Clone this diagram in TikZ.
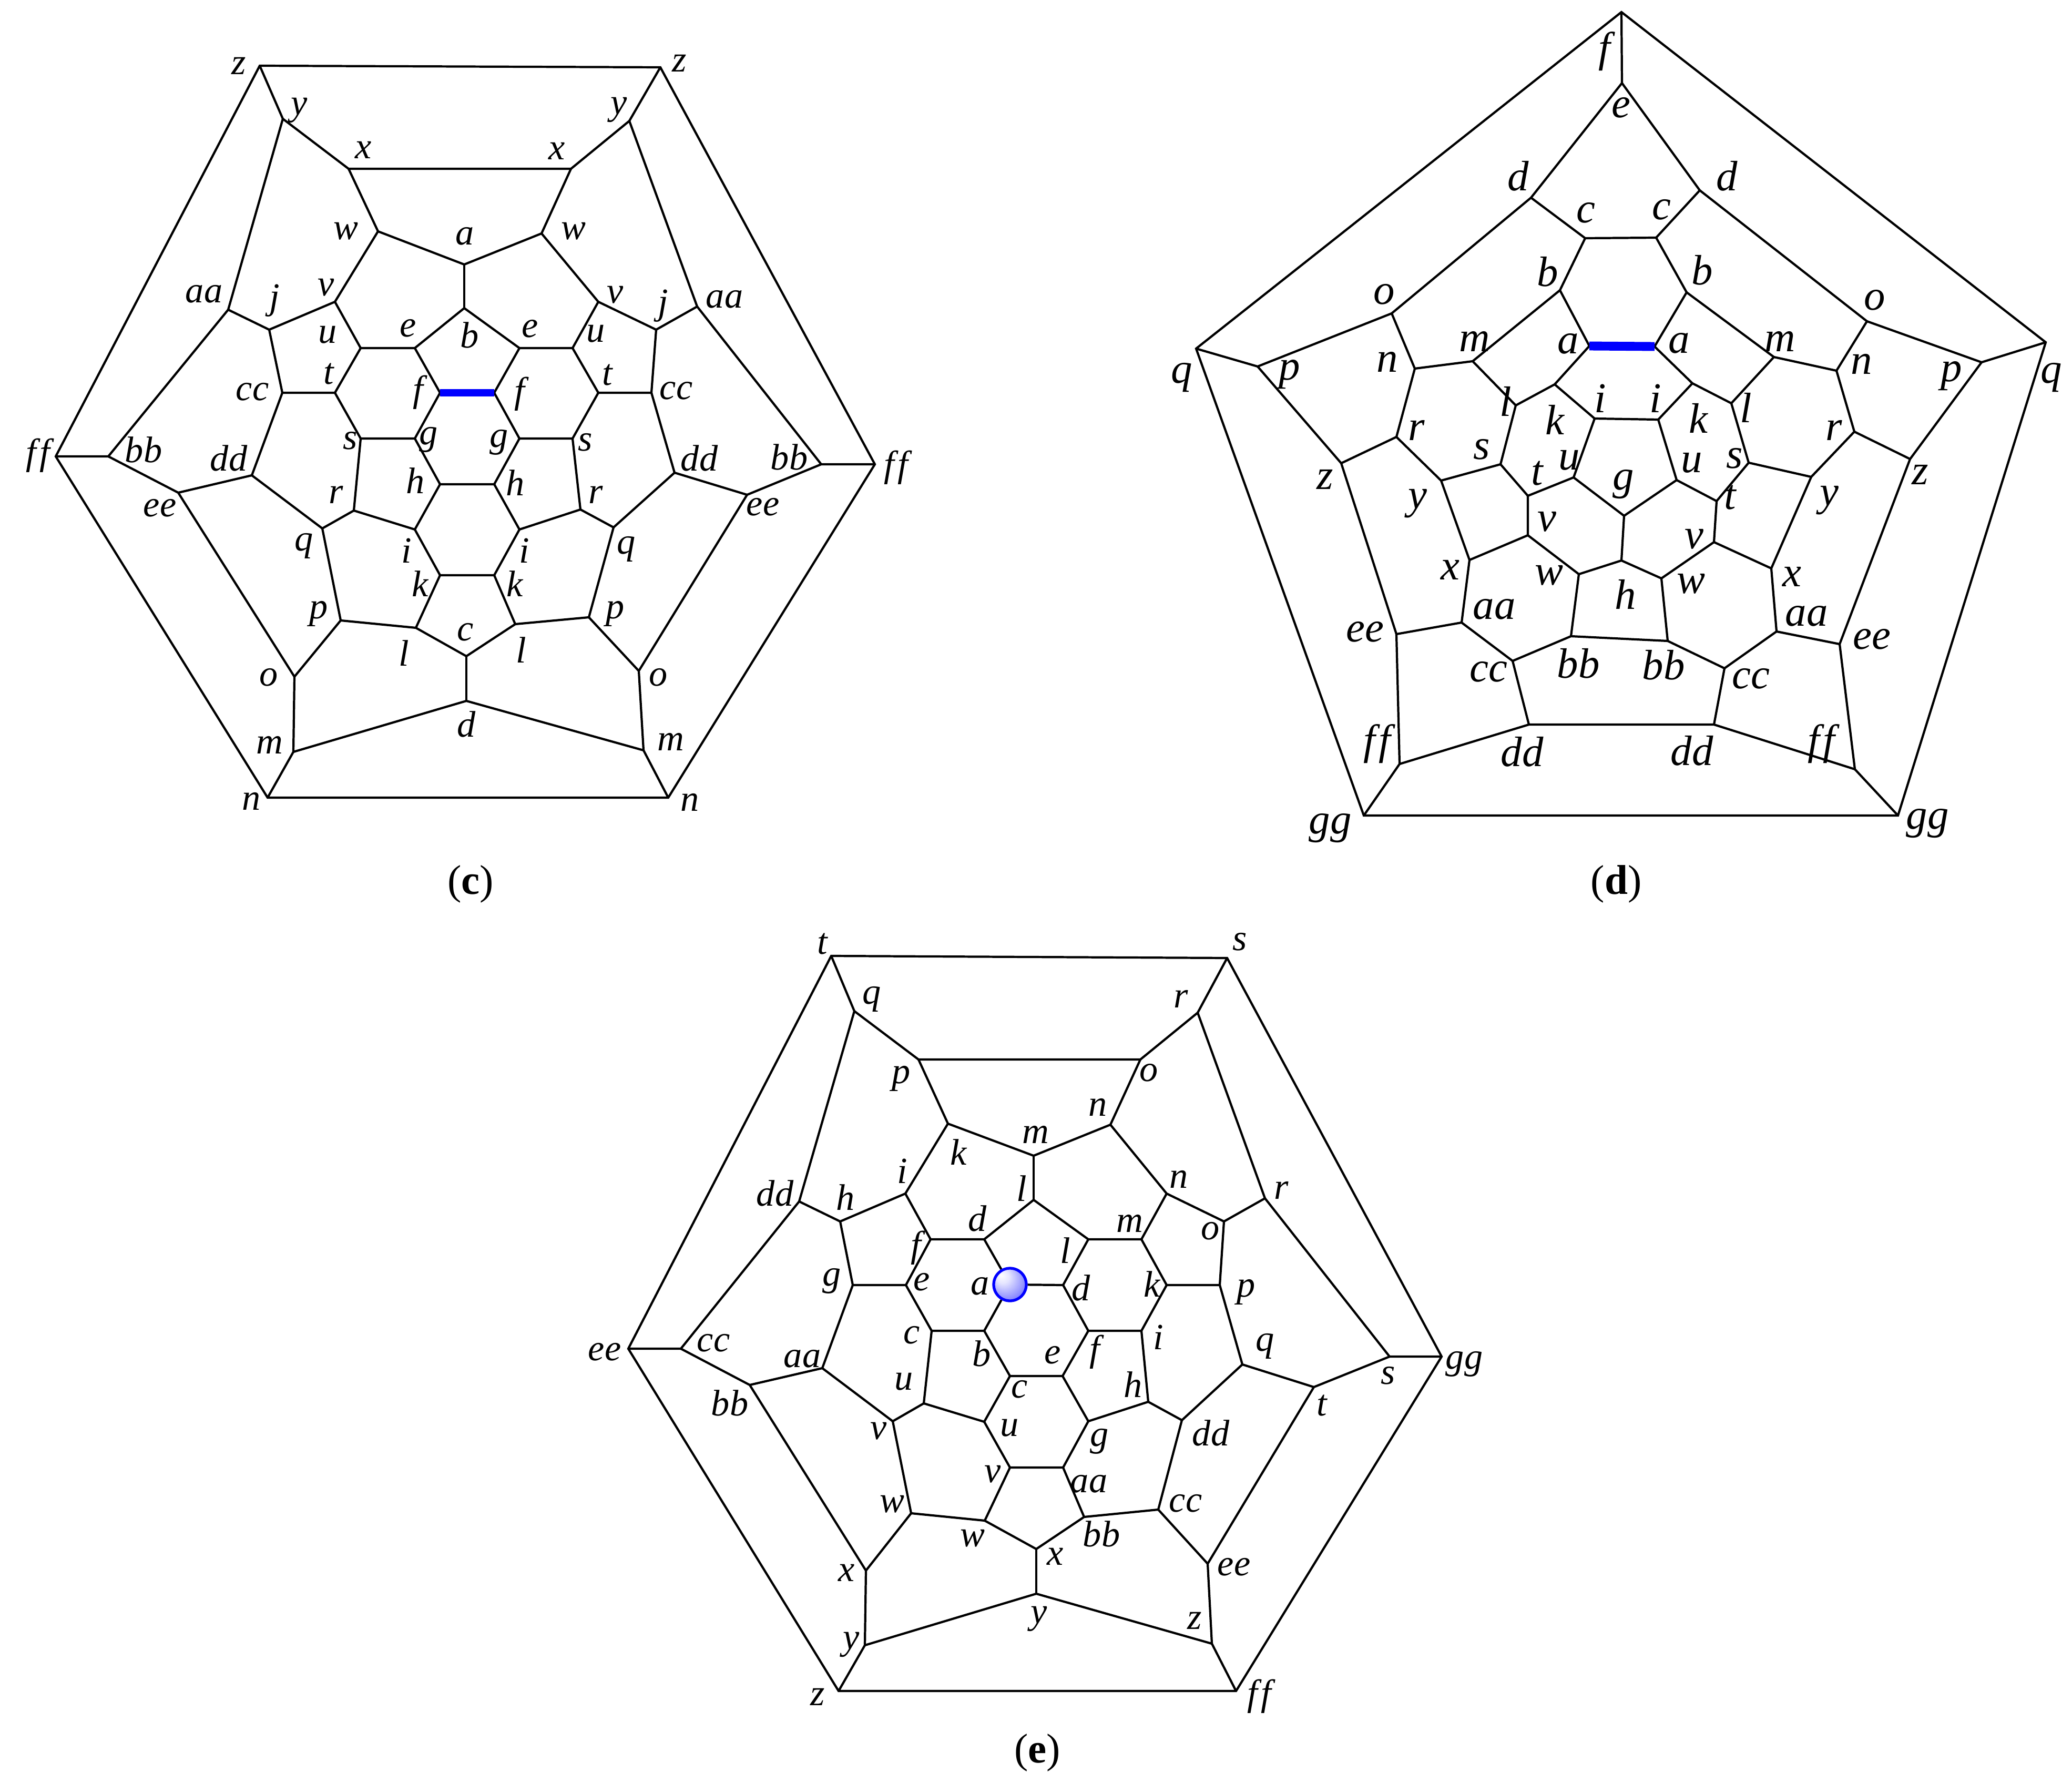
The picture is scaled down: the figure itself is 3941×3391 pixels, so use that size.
\documentclass[tikz,border=0pt]{standalone}
\usepackage{fontspec}
\usepackage{xcolor}
\usepackage{tikz}

\newfontfamily\labfont[Ligatures=NoCommon]{Liberation Serif}
\newcommand{\labff}{f\kern1.8pt f}
\pgfdeclareradialshading{atomshade}{\pgfpoint{-14bp}{15bp}}{color(0bp)=(white); color(10bp)=(blue!10); color(25bp)=(blue!38); color(40bp)=(blue!68); color(50bp)=(blue!90)}

\tikzset{
    link/.style={line width=1.2pt, black},
    bond/.style={line width=4pt, blue},
    lab/.style={inner sep=0pt, font=\labfont\itshape\fontsize{20}{22}\selectfont},
    labd/.style={inner sep=0pt, font=\labfont\itshape\fontsize{23}{26}\selectfont},
    panel/.style={inner sep=0pt, font=\labfont\fontsize{22.5}{26}\selectfont},
    atom/.style={circle, draw=blue, line width=1.5pt, inner sep=0pt, minimum size=62*0.01cm, shading=atomshade}
}

\begin{document}
\begin{tikzpicture}[x=0.01cm, y=-0.01cm]
        \useasboundingbox (0,0) rectangle (3941,3391);

        % panel c
        \coordinate (czL) at (494,125); \node[lab] (lczL) at (454,125) {z};
        \coordinate (czR) at (1256,128); \node[lab] (lczR) at (1292,120) {z};
        \coordinate (cyL) at (538,226); \node[lab] (lcyL) at (569,210) {y};
        \coordinate (cyR) at (1197,230); \node[lab] (lcyR) at (1177,209) {y};
        \coordinate (cxL) at (663,321); \node[lab] (lcxL) at (691,285) {x};
        \coordinate (cxR) at (1086,321); \node[lab] (lcxR) at (1059,287) {x};
        \coordinate (cwL) at (719,440); \node[lab] (lcwL) at (658,440) {w};
        \coordinate (cwR) at (1030,444); \node[lab] (lcwR) at (1091,440) {w};
        \coordinate (ca) at (883,503); \node[lab] (lca) at (884,449) {a};
        \coordinate (cb) at (883,586); \node[lab] (lcb) at (893,637) {b};
        \coordinate (cvL) at (637,574); \node[lab] (lcvL) at (620,547) {v};
        \coordinate (cvR) at (1138,574); \node[lab] (lcvR) at (1170,561) {v};
        \coordinate (cjL) at (512,627); \node[lab] (lcjL) at (522,572) {j};
        \coordinate (cjR) at (1248,627); \node[lab] (lcjR) at (1261,582) {j};
        \coordinate (caaL) at (434,589); \node[lab] (lcaaL) at (388,559) {aa};
        \coordinate (caaR) at (1326,583); \node[lab] (lcaaR) at (1378,569) {aa};
        \coordinate (ceL) at (789,662); \node[lab] (lceL) at (776,624) {e};
        \coordinate (ceR) at (988,662); \node[lab] (lceR) at (1008,625) {e};
        \coordinate (cuL) at (686,662); \node[lab] (lcuL) at (623,637) {u};
        \coordinate (cuR) at (1089,662); \node[lab] (lcuR) at (1133,635) {u};
        \coordinate (cfL) at (837,747); \node[lab] (lcfL) at (795,746) {f};
        \coordinate (cfR) at (940,747); \node[lab] (lcfR) at (988,749) {f};
        \coordinate (ctL) at (637,747); \node[lab] (lctL) at (625,711) {t};
        \coordinate (ctR) at (1138,747); \node[lab] (lctR) at (1155,713) {t};
        \coordinate (cccL) at (537,747); \node[lab] (lcccL) at (480,745) {cc};
        \coordinate (cccR) at (1239,747); \node[lab] (lcccR) at (1286,743) {cc};
        \coordinate (cgL) at (789,834); \node[lab] (lcgL) at (815,836) {g};
        \coordinate (cgR) at (988,834); \node[lab] (lcgR) at (949,841) {g};
        \coordinate (csL) at (686,834); \node[lab] (lcsL) at (666,838) {s};
        \coordinate (csR) at (1089,834); \node[lab] (lcsR) at (1113,841) {s};
        \coordinate (cffL) at (106,868); \node[lab] (lcffL) at (72,866) {\labff};
        \coordinate (cffR) at (1664,883); \node[lab] (lcffR) at (1704,889) {\labff};
        \coordinate (cbbL) at (206,868); \node[lab] (lcbbL) at (273,855) {bb};
        \coordinate (cbbR) at (1562,883); \node[lab] (lcbbR) at (1501,869) {bb};
        \coordinate (cddL) at (479,904); \node[lab] (lcddL) at (435,871) {dd};
        \coordinate (cddR) at (1283,899); \node[lab] (lcddR) at (1330,871) {dd};
        \coordinate (ceeL) at (339,937); \node[lab] (lceeL) at (304,966) {ee};
        \coordinate (ceeR) at (1421,941); \node[lab] (lceeR) at (1451,964) {ee};
        \coordinate (chL) at (837,921); \node[lab] (lchL) at (790,914) {h};
        \coordinate (chR) at (940,921); \node[lab] (lchR) at (980,918) {h};
        \coordinate (crL) at (673,971); \node[lab] (lcrL) at (639,941) {r};
        \coordinate (crR) at (1104,969); \node[lab] (lcrR) at (1133,941) {r};
        \coordinate (cqL) at (613,1005); \node[lab] (lcqL) at (578,1038) {q};
        \coordinate (cqR) at (1167,1003); \node[lab] (lcqR) at (1191,1044) {q};
        \coordinate (ciL) at (789,1007); \node[lab] (lciL) at (773,1047) {i};
        \coordinate (ciR) at (988,1007); \node[lab] (lciR) at (997,1047) {i};
        \coordinate (ckL) at (837,1094); \node[lab] (lckL) at (799,1110) {k};
        \coordinate (ckR) at (940,1094); \node[lab] (lckR) at (979,1110) {k};
        \coordinate (cpL) at (648,1180); \node[lab] (lcpL) at (606,1167) {p};
        \coordinate (cpR) at (1120,1174); \node[lab] (lcpR) at (1170,1167) {p};
        \coordinate (clL) at (791,1194); \node[lab] (lclL) at (768,1242) {l};
        \coordinate (clR) at (980,1187); \node[lab] (lclR) at (991,1236) {l};
        \coordinate (cc) at (887,1248); \node[lab] (lcc) at (885,1202) {c};
        \coordinate (coL) at (560,1287); \node[lab] (lcoL) at (511,1288) {o};
        \coordinate (coR) at (1215,1276); \node[lab] (lcoR) at (1252,1288) {o};
        \coordinate (cd) at (887,1333); \node[lab] (lcd) at (887,1377) {d};
        \coordinate (cmL) at (558,1430); \node[lab] (lcmL) at (513,1417) {m};
        \coordinate (cmR) at (1224,1427); \node[lab] (lcmR) at (1276,1411) {m};
        \coordinate (cnL) at (509,1517); \node[lab] (lcnL) at (478,1524) {n};
        \coordinate (cnR) at (1271,1517); \node[lab] (lcnR) at (1312,1526) {n};
        \node[panel] (capc) at (895,1681) {(\textbf{c})};

        \draw[link] (czL) -- (czR) -- (cffR) -- (cnR) -- (cnL) -- (cffL) -- cycle;
        \draw[link] (czL) -- (cyL) -- (cxL) -- (cxR) -- (cyR) -- (czR);
        \draw[link] (cffL) -- (cbbL) -- (caaL) -- (cyL);
        \draw[link] (cffR) -- (cbbR) -- (caaR) -- (cyR);
        \draw[link] (cbbL) -- (ceeL) -- (coL) -- (cmL) -- (cnL);
        \draw[link] (cbbR) -- (ceeR) -- (coR) -- (cmR) -- (cnR);
        \draw[link] (cmL) -- (cd) -- (cmR);
        \draw[link] (cxL) -- (cwL) -- (ca) -- (cwR) -- (cxR);
        \draw[link] (ca) -- (cb);
        \draw[link] (cwL) -- (cvL) -- (cjL) -- (caaL);
        \draw[link] (cwR) -- (cvR) -- (cjR) -- (caaR);
        \draw[link] (cvL) -- (cuL) -- (ceL) -- (cb) -- (ceR) -- (cuR) -- (cvR);
        \draw[link] (cuL) -- (ctL) -- (cccL) -- (cjL);
        \draw[link] (cuR) -- (ctR) -- (cccR) -- (cjR);
        \draw[link] (cccL) -- (cddL) -- (ceeL);
        \draw[link] (cccR) -- (cddR) -- (ceeR);
        \draw[link] (ctL) -- (csL) -- (cgL) -- (cfL) -- (ceL);
        \draw[link] (ctR) -- (csR) -- (cgR) -- (cfR) -- (ceR);
        \draw[link] (cgL) -- (chL) -- (chR) -- (cgR);
        \draw[link] (chL) -- (ciL) -- (ckL) -- (ckR) -- (ciR) -- (chR);
        \draw[link] (csL) -- (crL) -- (ciL);
        \draw[link] (csR) -- (crR) -- (ciR);
        \draw[link] (cddL) -- (cqL) -- (crL);
        \draw[link] (cddR) -- (cqR) -- (crR);
        \draw[link] (cqL) -- (cpL) -- (clL) -- (ckL);
        \draw[link] (cqR) -- (cpR) -- (clR) -- (ckR);
        \draw[link] (cpL) -- (coL);
        \draw[link] (cpR) -- (coR);
        \draw[link] (clL) -- (cc) -- (clR);
        \draw[link] (cc) -- (cd);
        \draw[bond] (cfL) -- (cfR);

        % panel d
        \coordinate (df) at (3084,23); \node[labd] (ldf) at (3052,98) {f};
        \coordinate (de) at (3085,158); \node[labd] (lde) at (3083,205) {e};
        \coordinate (dqL) at (2275,663); \node[labd] (ldqL) at (2248,718) {q};
        \coordinate (dqR) at (3891,651); \node[labd] (ldqR) at (3902,718) {q};
        \coordinate (ddL) at (2912,376); \node[labd] (lddL) at (2888,335) {d};
        \coordinate (ddR) at (3233,362); \node[labd] (lddR) at (3285,335) {d};
        \coordinate (dcL) at (3015,453); \node[labd] (ldcL) at (3016,405) {c};
        \coordinate (dcR) at (3150,452); \node[labd] (ldcR) at (3160,399) {c};
        \coordinate (dbL) at (2967,552); \node[labd] (ldbL) at (2944,517) {b};
        \coordinate (dbR) at (3208,556); \node[labd] (ldbR) at (3238,514) {b};
        \coordinate (doL) at (2647,596); \node[labd] (ldoL) at (2633,560) {o};
        \coordinate (doR) at (3551,611); \node[labd] (ldoR) at (3566,571) {o};
        \coordinate (daL) at (3023,658); \node[labd] (ldaL) at (2983,654) {a};
        \coordinate (daR) at (3147,659); \node[labd] (ldaR) at (3194,653) {a};
        \coordinate (dpL) at (2392,697); \node[labd] (ldpL) at (2453,712) {p};
        \coordinate (dpR) at (3769,689); \node[labd] (ldpR) at (3712,715) {p};
        \coordinate (dnL) at (2691,701); \node[labd] (ldnL) at (2639,688) {n};
        \coordinate (dnR) at (3493,705); \node[labd] (ldnR) at (3541,692) {n};
        \coordinate (dmL) at (2801,687); \node[labd] (ldmL) at (2805,649) {m};
        \coordinate (dmR) at (3374,679); \node[labd] (ldmR) at (3386,649) {m};
        \coordinate (dkL) at (2957,731); \node[labd] (ldkL) at (2957,798) {k};
        \coordinate (dkR) at (3219,729); \node[labd] (ldkR) at (3230,795) {k};
        \coordinate (dlL) at (2883,771); \node[labd] (ldlL) at (2864,763) {l};
        \coordinate (dlR) at (3293,767); \node[labd] (ldlR) at (3321,775) {l};
        \coordinate (diL) at (3033,796); \node[labd] (ldiL) at (3044,758) {i};
        \coordinate (diR) at (3154,798); \node[labd] (ldiR) at (3149,758) {i};
        \coordinate (drL) at (2656,831); \node[labd] (ldrL) at (2694,818) {r};
        \coordinate (drR) at (3527,821); \node[labd] (ldrR) at (3488,818) {r};
        \coordinate (dsL) at (2854,883); \node[labd] (ldsL) at (2818,855) {s};
        \coordinate (dsR) at (3326,880); \node[labd] (ldsR) at (3299,872) {s};
        \coordinate (dzL) at (2551,881); \node[labd] (ldzL) at (2520,912) {z};
        \coordinate (dzR) at (3633,873); \node[labd] (ldzR) at (3652,903) {z};
        \coordinate (dyL) at (2741,914); \node[labd] (ldyL) at (2696,958) {y};
        \coordinate (dyR) at (3445,907); \node[labd] (ldyR) at (3479,952) {y};
        \coordinate (duL) at (2993,908); \node[labd] (lduL) at (2985,875) {u};
        \coordinate (duR) at (3189,913); \node[labd] (lduR) at (3218,880) {u};
        \coordinate (dtL) at (2906,943); \node[labd] (ldtL) at (2924,900) {t};
        \coordinate (dtR) at (3265,953); \node[labd] (ldtR) at (3291,946) {t};
        \coordinate (dg) at (3089,981); \node[labd] (ldg) at (3088,921) {g};
        \coordinate (dvL) at (2906,1018); \node[labd] (ldvL) at (2942,992) {v};
        \coordinate (dvR) at (3260,1031); \node[labd] (ldvR) at (3222,1025) {v};
        \coordinate (dxL) at (2795,1065); \node[labd] (ldxL) at (2758,1084) {x};
        \coordinate (dxR) at (3369,1081); \node[labd] (ldxR) at (3408,1097) {x};
        \coordinate (dh) at (3084,1066); \node[labd] (ldh) at (3092,1130) {h};
        \coordinate (dwL) at (3003,1092); \node[labd] (ldwL) at (2946,1094) {w};
        \coordinate (dwR) at (3160,1100); \node[labd] (ldwR) at (3216,1110) {w};
        \coordinate (daaL) at (2780,1184); \node[labd] (ldaaL) at (2842,1159) {aa};
        \coordinate (daaR) at (3379,1201); \node[labd] (ldaaR) at (3436,1172) {aa};
        \coordinate (dbbL) at (2988,1210); \node[labd] (ldbbL) at (3002,1262) {bb};
        \coordinate (dbbR) at (3172,1219); \node[labd] (ldbbR) at (3164,1265) {bb};
        \coordinate (deeL) at (2656,1206); \node[labd] (ldeeL) at (2596,1202) {ee};
        \coordinate (deeR) at (3499,1225); \node[labd] (ldeeR) at (3560,1216) {ee};
        \coordinate (dccL) at (2877,1257); \node[labd] (ldccL) at (2831,1278) {cc};
        \coordinate (dccR) at (3280,1271); \node[labd] (ldccR) at (3330,1291) {cc};
        \coordinate (dddL) at (2908,1378); \node[labd] (ldddL) at (2895,1430) {dd};
        \coordinate (dddR) at (3260,1378); \node[labd] (ldddR) at (3218,1428) {dd};
        \coordinate (dffL) at (2662,1453); \node[labd] (ldffL) at (2619,1415) {\labff};
        \coordinate (dffR) at (3528,1463); \node[labd] (ldffR) at (3464,1415) {\labff};
        \coordinate (dggL) at (2594,1551); \node[labd] (ldggL) at (2530,1575) {gg};
        \coordinate (dggR) at (3610,1551); \node[labd] (ldggR) at (3666,1566) {gg};
        \node[panel] (capd) at (3074,1681) {(\textbf{d})};

        \draw[link] (df) -- (dqL) -- (dggL) -- (dggR) -- (dqR) -- cycle;
        \draw[link] (df) -- (de);
        \draw[link] (dqL) -- (dpL) -- (doL) -- (ddL) -- (de) -- (ddR) -- (doR) -- (dpR) -- (dqR);
        \draw[link] (dggL) -- (dffL) -- (deeL) -- (dzL) -- (dpL);
        \draw[link] (dggR) -- (dffR) -- (deeR) -- (dzR) -- (dpR);
        \draw[link] (dffL) -- (dddL) -- (dddR) -- (dffR);
        \draw[link] (ddL) -- (dcL) -- (dcR) -- (ddR);
        \draw[link] (dcL) -- (dbL) -- (daL);
        \draw[link] (dcR) -- (dbR) -- (daR);
        \draw[link] (dbL) -- (dmL) -- (dnL) -- (doL);
        \draw[link] (dbR) -- (dmR) -- (dnR) -- (doR);
        \draw[link] (dmL) -- (dlL) -- (dkL) -- (daL);
        \draw[link] (dmR) -- (dlR) -- (dkR) -- (daR);
        \draw[link] (dkL) -- (diL) -- (diR) -- (dkR);
        \draw[link] (diL) -- (duL) -- (dg) -- (duR) -- (diR);
        \draw[link] (duL) -- (dtL) -- (dsL) -- (dlL);
        \draw[link] (duR) -- (dtR) -- (dsR) -- (dlR);
        \draw[link] (dsL) -- (dyL) -- (drL) -- (dnL);
        \draw[link] (dsR) -- (dyR) -- (drR) -- (dnR);
        \draw[link] (drL) -- (dzL);
        \draw[link] (drR) -- (dzR);
        \draw[link] (dyL) -- (dxL) -- (dvL) -- (dtL);
        \draw[link] (dyR) -- (dxR) -- (dvR) -- (dtR);
        \draw[link] (dvL) -- (dwL) -- (dh) -- (dwR) -- (dvR);
        \draw[link] (dg) -- (dh);
        \draw[link] (dwL) -- (dbbL) -- (dbbR) -- (dwR);
        \draw[link] (dxL) -- (daaL) -- (dccL) -- (dbbL);
        \draw[link] (dxR) -- (daaR) -- (dccR) -- (dbbR);
        \draw[link] (daaL) -- (deeL);
        \draw[link] (daaR) -- (deeR);
        \draw[link] (dccL) -- (dddL);
        \draw[link] (dccR) -- (dddR);
        \draw[bond, line width=4.8pt] (daL) -- (daR);

        % panel e
        \coordinate (et) at (1581,1818); \node[lab] (let) at (1564,1795) {t};
        \coordinate (es) at (2334,1822); \node[lab] (les) at (2358,1791) {s};
        \coordinate (eq) at (1625,1923); \node[lab] (leq) at (1658,1900) {q};
        \coordinate (er) at (2278,1926); \node[lab] (ler) at (2246,1900) {r};
        \coordinate (ep) at (1747,2015); \node[lab] (lep) at (1714,2051) {p};
        \coordinate (eo) at (2169,2015); \node[lab] (leo) at (2185,2040) {o};
        \coordinate (ek) at (1803,2137); \node[lab] (lek) at (1823,2191) {k};
        \coordinate (en) at (2112,2139); \node[lab] (len) at (2088,2106) {n};
        \coordinate (em) at (1966,2198); \node[lab] (lem) at (1970,2158) {m};
        \coordinate (el) at (1966,2282); \node[lab] (lel) at (1943,2260) {l};
        \coordinate (ei) at (1722,2270); \node[lab] (lei) at (1716,2227) {i};
        \coordinate (enb) at (2219,2270); \node[lab] (lenb) at (2242,2243) {n};
        \coordinate (eh) at (1598,2323); \node[lab] (leh) at (1608,2277) {h};
        \coordinate (eob) at (2328,2323); \node[lab] (leob) at (2302,2341) {o};
        \coordinate (edd) at (1520,2285); \node[lab] (ledd) at (1474,2269) {dd};
        \coordinate (erb) at (2406,2279); \node[lab] (lerb) at (2437,2264) {r};
        \coordinate (ef) at (1770,2357); \node[lab] (lef) at (1742,2373) {f};
        \coordinate (ed) at (1872,2357); \node[lab] (led) at (1859,2317) {d};
        \coordinate (elb) at (2070,2357); \node[lab] (lelb) at (2026,2378) {l};
        \coordinate (emb) at (2171,2357); \node[lab] (lemb) at (2149,2327) {m};
        \coordinate (ee) at (1723,2444); \node[lab] (lee) at (1753,2438) {e};
        \coordinate (edb) at (2022,2444); \node[lab] (ledb) at (2056,2449) {d};
        \coordinate (ekb) at (2219,2444); \node[lab] (lekb) at (2191,2442) {k};
        \coordinate (eg) at (1622,2444); \node[lab] (leg) at (1582,2436) {g};
        \coordinate (epb) at (2320,2444); \node[lab] (lepb) at (2370,2457) {p};
        \node[atom] (ea) at (1921,2443) {}; \node[lab] (lea) at (1864,2446) {a};
        \coordinate (eee) at (1195,2565); \node[lab] (leee) at (1150,2571) {ee};
        \coordinate (ecc) at (1295,2565); \node[lab] (lecc) at (1357,2554) {cc};
        \coordinate (egg) at (2742,2580); \node[lab] (legg) at (2785,2594) {gg};
        \coordinate (esb) at (2643,2580); \node[lab] (lesb) at (2640,2616) {s};
        \coordinate (ec) at (1772,2531); \node[lab] (lec) at (1734,2539) {c};
        \coordinate (eb) at (1872,2531); \node[lab] (leb) at (1867,2574) {b};
        \coordinate (efb) at (2070,2531); \node[lab] (lefb) at (2082,2571) {f};
        \coordinate (eib) at (2171,2531); \node[lab] (leib) at (2203,2543) {i};
        \coordinate (eaa) at (1564,2602); \node[lab] (leaa) at (1526,2584) {aa};
        \coordinate (eqb) at (2363,2595); \node[lab] (leqb) at (2406,2560) {q};
        \coordinate (ecb) at (1921,2617); \node[lab] (lecb) at (1939,2642) {c};
        \coordinate (eeb) at (2021,2617); \node[lab] (leeb) at (2002,2577) {e};
        \coordinate (ebb) at (1426,2634); \node[lab] (lebb) at (1388,2668) {bb};
        \coordinate (etb) at (2499,2638); \node[lab] (letb) at (2514,2673) {t};
        \coordinate (eu) at (1757,2669); \node[lab] (leu) at (1719,2628) {u};
        \coordinate (ehb) at (2184,2666); \node[lab] (lehb) at (2155,2633) {h};
        \coordinate (ev) at (1698,2703); \node[lab] (lev) at (1671,2722) {v};
        \coordinate (eddb) at (2248,2701); \node[lab] (leddb) at (2303,2725) {dd};
        \coordinate (eub) at (1872,2704); \node[lab] (leub) at (1920,2716) {u};
        \coordinate (egb) at (2070,2703); \node[lab] (legb) at (2091,2741) {g};
        \coordinate (evb) at (1921,2791); \node[lab] (levb) at (1888,2804) {v};
        \coordinate (eaab) at (2022,2791); \node[lab] (leaab) at (2071,2822) {aa};
        \coordinate (ew) at (1733,2878); \node[lab] (lew) at (1697,2861) {w};
        \coordinate (eccb) at (2203,2871); \node[lab] (leccb) at (2255,2859) {cc};
        \coordinate (ewb) at (1873,2892); \node[lab] (lewb) at (1850,2926) {w};
        \coordinate (ebbb) at (2062,2885); \node[lab] (lebbb) at (2095,2917) {bb};
        \coordinate (exb) at (1971,2946); \node[lab] (lexb) at (2007,2960) {x};
        \coordinate (ex) at (1647,2987); \node[lab] (lex) at (1610,2991) {x};
        \coordinate (eeeb) at (2297,2974); \node[lab] (leeeb) at (2347,2980) {ee};
        \coordinate (eyb) at (1971,3031); \node[lab] (leyb) at (1976,3079) {y};
        \coordinate (ey) at (1645,3129); \node[lab] (ley) at (1619,3128) {y};
        \coordinate (ezb) at (2305,3126); \node[lab] (lezb) at (2272,3082) {z};
        \coordinate (ez) at (1595,3216); \node[lab] (lez) at (1555,3227) {z};
        \coordinate (eff) at (2351,3216); \node[lab] (leff) at (2395,3226) {\labff};
        \node[panel] (cape) at (1973,3333) {(\textbf{e})};

        \draw[link] (et) -- (es) -- (egg) -- (eff) -- (ez) -- (eee) -- cycle;
        \draw[link] (et) -- (eq) -- (ep) -- (eo) -- (er) -- (es);
        \draw[link] (eee) -- (ecc) -- (edd) -- (eq);
        \draw[link] (egg) -- (esb) -- (erb) -- (er);
        \draw[link] (ecc) -- (ebb) -- (ex) -- (ey) -- (ez);
        \draw[link] (esb) -- (etb) -- (eeeb) -- (ezb) -- (eff);
        \draw[link] (ey) -- (eyb) -- (ezb);
        \draw[link] (ep) -- (ek) -- (em) -- (en) -- (eo);
        \draw[link] (em) -- (el);
        \draw[link] (ek) -- (ei) -- (eh) -- (edd);
        \draw[link] (en) -- (enb) -- (eob) -- (erb);
        \draw[link] (ei) -- (ef) -- (ed) -- (el) -- (elb) -- (emb) -- (enb);
        \draw[link] (ef) -- (ee) -- (eg) -- (eh);
        \draw[link] (emb) -- (ekb) -- (epb) -- (eob);
        \draw[link] (eg) -- (eaa) -- (ebb);
        \draw[link] (epb) -- (eqb) -- (etb);
        \draw[link] (ed) -- (ea) -- (edb) -- (elb);
        \draw[link] (ea) -- (eb) -- (ec) -- (ee);
        \draw[link] (edb) -- (efb) -- (eib) -- (ekb);
        \draw[link] (eb) -- (ecb) -- (eeb) -- (efb);
        \draw[link] (ec) -- (eu) -- (eub) -- (ecb);
        \draw[link] (eib) -- (ehb) -- (egb) -- (eeb);
        \draw[link] (eu) -- (ev) -- (eaa);
        \draw[link] (ehb) -- (eddb) -- (eqb);
        \draw[link] (eub) -- (evb) -- (eaab) -- (egb);
        \draw[link] (ev) -- (ew) -- (ewb) -- (evb);
        \draw[link] (eddb) -- (eccb) -- (ebbb) -- (eaab);
        \draw[link] (ewb) -- (exb) -- (ebbb);
        \draw[link] (exb) -- (eyb);
        \draw[link] (ew) -- (ex);
        \draw[link] (eccb) -- (eeeb);
    \end{tikzpicture}
\end{document}
